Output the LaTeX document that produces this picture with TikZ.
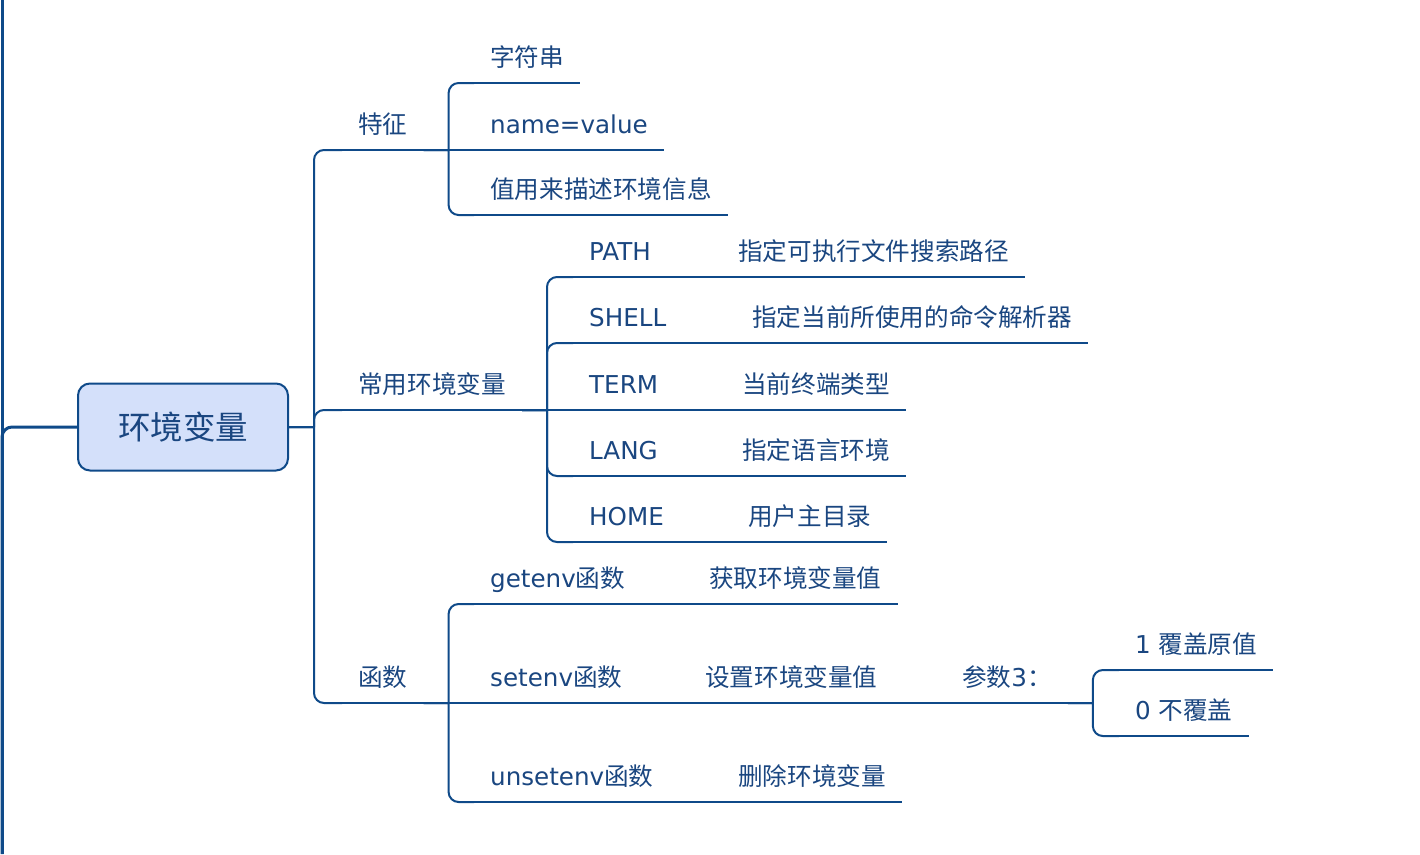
\documentclass[tikz,border=0pt]{standalone}
\usepackage{fontspec}
\setmainfont{DejaVu Sans}
\newfontfamily\cjk{Noto Sans CJK SC}
\newcommand\hz[1]{{\cjk #1}}

\definecolor{mapline}{HTML}{0F4A89}
\definecolor{maptext}{HTML}{1A4680}
\definecolor{mapfill}{HTML}{D4E0FA}

\tikzset{
  maplink/.style={draw=mapline, line width=2pt},
  branch/.style={maplink, rounded corners=10pt,
    to path={-- ++(25,0) ++(0,0) |- (\tikztotarget)}},
  topic/.style={anchor=south west, inner xsep=16pt, inner ysep=16pt,
    text depth=0pt, text=maptext, font=\fontsize{24.6}{30}\selectfont},
  rootbox/.style={draw=mapline, fill=mapfill, line width=2pt,
    rounded corners=12pt, minimum width=210pt, minimum height=87pt,
    text=maptext, font=\cjk\fontsize{32.5}{40}\selectfont},
  rail/.style={draw=mapline, line width=3pt}
}

\begin{document}
\begin{tikzpicture}[x=1pt, y=-1pt]
    \useasboundingbox (0,0) rectangle (1420,854);

    \coordinate (rt) at (2,0);
    \coordinate (rb) at (2,854);
    \node [rootbox] (root) at (183,427) {环境变量};
    \draw [rail] (rt) -- (rb);
    \draw [rail, rounded corners=10pt] (root.west) -| (rb);

    % first level
    \node [topic] (tz) at (342,150) {\hz{特征}};
    \node [topic] (cy) at (342,410) {\hz{常用环境变量}};
    \node [topic] (hs) at (342,703) {\hz{函数}};

    % features
    \node [topic] (zf) at (474,83)  {\hz{字符串}};
    \node [topic] (nv) at (474,150) {name=value};
    \node [topic] (zm) at (474,215) {\hz{值用来描述环境信息}};

    % common variables
    \node [topic] (pa) at (573,277) {PATH};
    \node [topic] (pd) at (722,277) {\hz{指定可执行文件搜索路径}};
    \node [topic] (sh) at (573,343) {SHELL};
    \node [topic] (sd) at (736,343) {\hz{指定当前所使用的命令解析器}};
    \node [topic] (te) at (573,410) {TERM};
    \node [topic] (td) at (726,410) {\hz{当前终端类型}};
    \node [topic] (la) at (573,476) {LANG};
    \node [topic] (ld) at (726,476) {\hz{指定语言环境}};
    \node [topic] (ho) at (573,542) {HOME};
    \node [topic] (hd) at (732,542) {\hz{用户主目录}};

    % functions
    \node [topic] (ge) at (474,604) {getenv\hz{函数}};
    \node [topic] (gd) at (693,604) {\hz{获取环境变量值}};
    \node [topic] (se) at (474,703) {setenv\hz{函数}};
    \node [topic] (sv) at (689,703) {\hz{设置环境变量值}};
    \node [topic] (cs) at (946,703) {\hz{参数}3\hz{：}};
    \node [topic] (c1) at (1119,670) {1 \hz{覆盖原值}};
    \node [topic] (c0) at (1119,736) {0 \hz{不覆盖}};
    \node [topic] (un) at (474,802) {unsetenv\hz{函数}};
    \node [topic] (ud) at (722,802) {\hz{删除环境变量}};

    \foreach \n in {tz,cy,hs,zf,nv,zm,pa,pd,sh,sd,te,td,la,ld,ho,hd,
                    ge,gd,se,sv,cs,c1,c0,un,ud}
      \draw [maplink] (\n.south west) -- (\n.south east);

    \foreach \n in {tz,cy,hs}
      \draw [branch] (root.east) to (\n.south west);

    \draw [branch] (tz.south east) to (zf.south west);
    \draw [maplink] (tz.south east) -- (nv.south west);
    \draw [branch] (tz.south east) to (zm.south west);

    \foreach \n in {pa,sh,la,ho}
      \draw [branch] (cy.south east) to (\n.south west);
    \draw [maplink] (cy.south east) -- (te.south west);

    \draw [branch] (hs.south east) to (ge.south west);
    \draw [maplink] (hs.south east) -- (se.south west);
    \draw [branch] (hs.south east) to (un.south west);

    \foreach \a/\b in {pa/pd,sh/sd,te/td,la/ld,ho/hd,ge/gd,se/sv,sv/cs,un/ud}
      \draw [maplink] (\a.south east) -- (\b.south west);

    \draw [branch] (cs.south east) to (c1.south west);
    \draw [branch] (cs.south east) to (c0.south west);
  \end{tikzpicture}
\end{document}
